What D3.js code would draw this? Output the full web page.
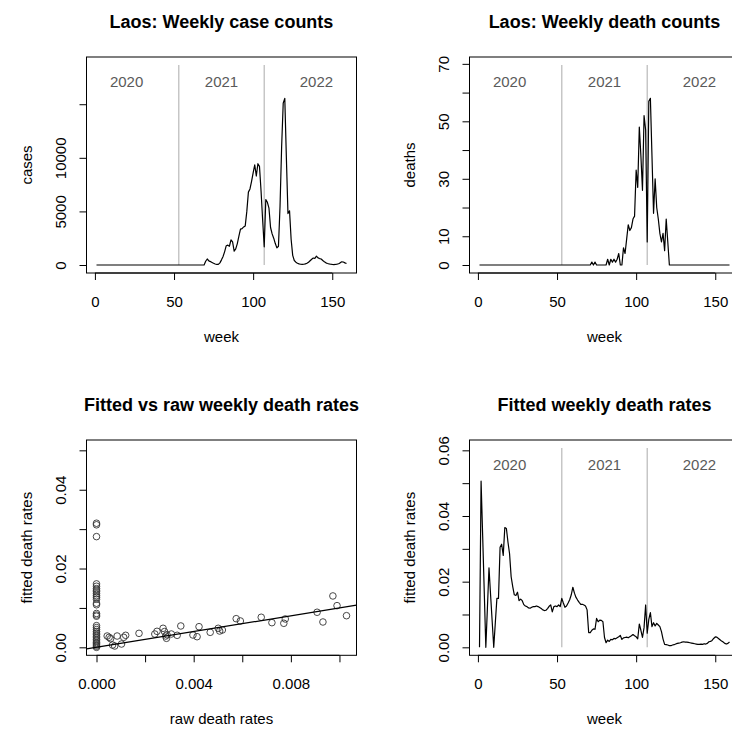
<!DOCTYPE html>
<html>
<head>
<meta charset="utf-8">
<script src="https://cdn.jsdelivr.net/npm/d3@7"></script>
<style>
  body { margin: 0; background: #fff; }
  svg { display: block; font-family: "Liberation Sans", Arial, Helvetica, sans-serif; }
</style>
</head>
<body>
<svg id="fig" width="732" height="729"></svg>
<script>
// Weekly case counts, Laos, week 1 .. 159
const weeklyCases = [
  0, 0, 0, 0, 0, 0, 0, 0, 0, 0,
  0, 0, 0, 0, 0, 0, 0, 0, 0, 0,
  0, 0, 0, 0, 0, 0, 0, 0, 0, 0,
  0, 0, 0, 0, 0, 0, 0, 0, 0, 0,
  0, 0, 0, 0, 0, 0, 0, 0, 0, 0,
  0, 0, 0, 0, 0, 0, 0, 0, 0, 0,
  0, 0, 0, 0, 0, 0, 0, 0, 0, 350,
  560, 380, 320, 240, 160, 90, 50, 60, 200, 480,
  800, 1250, 1800, 1850, 1750, 2350, 2150, 1300, 1500, 2000,
  2700, 3350, 3400, 3550, 3650, 5000, 6800, 7100, 7800, 8600,
  9350, 8300, 9450, 9200, 6900, 4200, 1700, 6100, 5850, 5300,
  3500, 2900, 2500, 2000, 1600, 1750, 5500, 11000, 15100, 15550,
  10000, 4800, 5050, 2400, 900, 420, 260, 160, 100, 70,
  60, 70, 100, 160, 260, 400, 540, 650, 620, 820,
  660, 600, 560, 420, 300, 200, 140, 100, 70, 50,
  40, 50, 80, 120, 200, 300, 280, 200, 140
];

// Weekly death counts, week 1 .. 159
const weeklyDeaths = [
  0, 0, 0, 0, 0, 0, 0, 0, 0, 0,
  0, 0, 0, 0, 0, 0, 0, 0, 0, 0,
  0, 0, 0, 0, 0, 0, 0, 0, 0, 0,
  0, 0, 0, 0, 0, 0, 0, 0, 0, 0,
  0, 0, 0, 0, 0, 0, 0, 0, 0, 0,
  0, 0, 0, 0, 0, 0, 0, 0, 0, 0,
  0, 0, 0, 0, 0, 0, 0, 0, 0, 0,
  0, 1, 0, 1, 0, 0, 0, 0, 0, 0,
  0, 2, 0, 2, 1, 2, 1, 2, 4, 0,
  0, 6, 4, 9, 14, 12, 13, 16, 17, 33,
  27, 48, 38, 26, 52, 47, 8, 57, 58, 38,
  18, 30, 20, 16, 11, 8, 11, 5, 16, 8,
  0, 0, 0, 0, 0, 0, 0, 0, 0, 0,
  0, 0, 0, 0, 0, 0, 0, 0, 0, 0,
  0, 0, 0, 0, 0, 0, 0, 0, 0, 0,
  0, 0, 0, 0, 0, 0, 0, 0, 0
];

// Fitted weekly death rates, week 1 .. 159
const fittedRate = [
  0, 0.0506, 0.034, 0.017, 0, 0.012, 0.0242, 0.016, 0.008, 0,
  0.0075, 0.0149, 0.0149, 0.0305, 0.0314, 0.028, 0.0365, 0.0362, 0.032, 0.0285,
  0.0215, 0.0185, 0.016, 0.0158, 0.0168, 0.0142, 0.0147, 0.0142, 0.013, 0.0126,
  0.0124, 0.012, 0.0119, 0.0122, 0.0124, 0.0124, 0.0126, 0.0124, 0.0121, 0.0118,
  0.0114, 0.0112, 0.0113, 0.0118, 0.0125, 0.0129, 0.0108, 0.0124, 0.0126, 0.0124,
  0.0129, 0.0124, 0.0149, 0.0135, 0.0122, 0.0126, 0.0135, 0.0145, 0.016, 0.0183,
  0.0165, 0.0152, 0.0144, 0.0137, 0.0131, 0.0131, 0.0129, 0.0126, 0.0114, 0.0045,
  0.0045, 0.0052, 0.0056, 0.0055, 0.0088, 0.0078, 0.0083, 0.0082, 0.0078, 0.003,
  0.0014, 0.0022, 0.0018, 0.0024, 0.0023, 0.0027, 0.0026, 0.0029, 0.0032, 0.0036,
  0.0024, 0.0029, 0.003, 0.0031, 0.0029, 0.0032, 0.0035, 0.0039, 0.0035, 0.0032,
  0.0026, 0.0071, 0.0052, 0.003, 0.006, 0.0129, 0.0043, 0.0085, 0.0106, 0.0063,
  0.0075, 0.0065, 0.0073, 0.0068, 0.0063, 0.0048, 0.0025, 0.0009, 0.0008, 0.0007,
  0.0005, 0.0005, 0.0007, 0.0008, 0.001, 0.0012, 0.0013, 0.0014, 0.0016, 0.0017,
  0.0016, 0.0016, 0.0015, 0.0014, 0.0013, 0.0012, 0.0011, 0.001, 0.0009, 0.0009,
  0.001, 0.0009, 0.0011, 0.001, 0.0012, 0.0017, 0.0018, 0.0021, 0.0027, 0.0032,
  0.0031, 0.0027, 0.0023, 0.0019, 0.0016, 0.0012, 0.001, 0.0012, 0.0016
];

// Raw (deaths / cases) against fitted rate, one pair per week with cases
const rawRate = [
  0, 0, 0, 0, 0, 0, 0, 0, 0, 0,
  0, 0, 0, 0, 0, 0, 0, 0, 0, 0,
  0, 0, 0, 0, 0, 0, 0, 0, 0, 0,
  0, 0,
  0.00044, 0.00052, 0.00058, 0.00066, 0.00075, 0.00085, 0.00103, 0.00112, 0.0012, 0.00175,
  0.0024, 0.00249, 0.00274, 0.0028, 0.00285, 0.00288, 0.0029, 0.00308, 0.00332, 0.00347,
  0.00397, 0.00414, 0.00422, 0.00468, 0.00501, 0.00507, 0.00518, 0.00575, 0.00592, 0.00678,
  0.00722, 0.00771, 0.00777, 0.00908, 0.00932, 0.00973, 0.0099, 0.01029
];
const fittedVsRaw = [
  0.0315, 0.0311, 0.0281, 0.0161, 0.0155, 0.0149, 0.0145, 0.0141, 0.0136, 0.0131,
  0.0127, 0.0122, 0.0112, 0.0108, 0.0086, 0.0082, 0.0079, 0.0055, 0.0050, 0.0045,
  0.0040, 0.0036, 0.0032, 0.0028, 0.0024, 0.0020, 0.0016, 0.0012, 0.0009, 0.0006,
  0.0003, 0.0,
  0.00287, 0.00254, 0.00219, 0.00058, 0.00033, 0.00287, 0.00084, 0.00254, 0.00305, 0.00355,
  0.00338, 0.00406, 0.00483, 0.0040, 0.00287, 0.00229, 0.0032, 0.00338, 0.00305, 0.00542,
  0.00313, 0.0027, 0.00524, 0.00381, 0.00483, 0.00414, 0.0044, 0.00727, 0.00669, 0.00763,
  0.00626, 0.0061, 0.0072, 0.0089, 0.00643, 0.01304, 0.01058, 0.00803
];

// Year annotations on the weekly panels
const yearLabels = ["2020", "2021", "2022"];
const yearLabelWeek = [20, 80, 140];
const yearStartWeek = [53, 107];

// Axis ticks and their printed labels ("" = tick without label)
const weekTicks = [0, 50, 100, 150];
const weekTickLabels = ["0", "50", "100", "150"];
const caseTicks = [0, 5000, 10000, 15000];
const caseTickLabels = ["0", "5000", "10000", ""];
const deathTicks = [0, 10, 20, 30, 40, 50, 60, 70];
const deathTickLabels = ["0", "10", "", "30", "", "50", "", "70"];
const rawTicks = [0, 0.002, 0.004, 0.006, 0.008, 0.010];
const rawTickLabels = ["0.000", "", "0.004", "", "0.008", ""];
const scatterYTicks = [0, 0.01, 0.02, 0.03, 0.04, 0.05];
const scatterYTickLabels = ["0.00", "", "0.02", "", "0.04", ""];
const rateTicks = [0, 0.01, 0.02, 0.03, 0.04, 0.05, 0.06];
const rateTickLabels = ["0.00", "", "0.02", "", "0.04", "", "0.06"];

const svg = d3.select("#fig");
const FONT = 15;

// Pad a data range by 4% on each side, as base graphics do
function padded(lo, hi) {
  const p = (hi - lo) * 0.04;
  return [lo - p, hi + p];
}

function drawPanel(cfg) {
  const { box } = cfg;
  const x = d3.scaleLinear().domain(cfg.xDom).range([box.l, box.r]);
  const y = d3.scaleLinear().domain(cfg.yDom).range([box.b, box.t]);
  const g = svg.append("g");

  // title
  g.append("text")
    .attr("x", (box.l + box.r) / 2).attr("y", box.t - 29)
    .attr("text-anchor", "middle").attr("font-weight", "bold")
    .attr("font-size", 18).attr("fill", "#000")
    .text(cfg.title);

  // bottom axis
  const xa = g.append("g").attr("transform", `translate(0,${box.b})`)
    .call(d3.axisBottom(x).tickValues(cfg.xTicks).tickSize(7)
      .tickFormat((d, i) => cfg.xLabels[i]));
  xa.select(".domain").remove();
  xa.append("line")
    .attr("x1", x(cfg.xTicks[0])).attr("x2", x(cfg.xTicks[cfg.xTicks.length - 1]))
    .attr("stroke", "#000");
  xa.selectAll(".tick line").attr("stroke", "#000");
  xa.selectAll(".tick text")
    .attr("y", 33.5).attr("dy", null)
    .attr("font-size", FONT).attr("fill", "#000")
    .attr("font-family", "Liberation Sans, Arial, sans-serif");

  // left axis, labels parallel to the axis
  const ya = g.append("g").attr("transform", `translate(${box.l},0)`)
    .call(d3.axisLeft(y).tickValues(cfg.yTicks).tickSize(7)
      .tickFormat((d, i) => cfg.yLabels[i]));
  ya.select(".domain").remove();
  ya.append("line")
    .attr("y1", y(cfg.yTicks[0])).attr("y2", y(cfg.yTicks[cfg.yTicks.length - 1]))
    .attr("stroke", "#000");
  ya.selectAll(".tick line").attr("stroke", "#000");
  ya.selectAll(".tick text")
    .attr("x", 0).attr("y", -21).attr("dy", null)
    .attr("transform", "rotate(-90)")
    .attr("text-anchor", "middle")
    .attr("font-size", FONT).attr("fill", "#000")
    .attr("font-family", "Liberation Sans, Arial, sans-serif");

  // axis titles
  g.append("text")
    .attr("x", (box.l + box.r) / 2).attr("y", box.b + 69)
    .attr("text-anchor", "middle").attr("font-size", FONT).attr("fill", "#000")
    .text(cfg.xlab);
  g.append("text")
    .attr("transform", `translate(${box.l - 55},${(box.t + box.b) / 2}) rotate(-90)`)
    .attr("text-anchor", "middle").attr("font-size", FONT).attr("fill", "#000")
    .text(cfg.ylab);

  return { g, x, y };
}

// Year separators and labels on a weekly panel
function drawYears(p, top, labelY) {
  yearStartWeek.forEach(w => {
    p.g.append("line")
      .attr("x1", p.x(w)).attr("x2", p.x(w))
      .attr("y1", p.y(0)).attr("y2", p.y(top))
      .attr("stroke", "#bebebe").attr("stroke-width", 1.3);
  });
  yearLabels.forEach((t, i) => {
    p.g.append("text")
      .attr("x", p.x(yearLabelWeek[i])).attr("y", p.y(labelY))
      .attr("dy", "0.36em").attr("text-anchor", "middle")
      .attr("font-size", FONT).attr("fill", "#5a5a5a")
      .text(t);
  });
}

function drawSeries(p, values) {
  const line = d3.line().x((d, i) => p.x(i + 1)).y(d => p.y(d));
  p.g.append("path").datum(values)
    .attr("d", line).attr("fill", "none")
    .attr("stroke", "#000").attr("stroke-width", 1.2)
    .attr("stroke-linejoin", "round");
}

function drawBox(p, box) {
  p.g.append("rect")
    .attr("x", box.l).attr("y", box.t)
    .attr("width", box.r - box.l).attr("height", box.b - box.t)
    .attr("fill", "none").attr("stroke", "#000").attr("stroke-width", 1);
}

const nWeeks = weeklyCases.length;
const weekDom = padded(1, nWeeks);

const boxTL = { l: 86.5, r: 356.5, t: 57, b: 273 };
const boxTR = { l: 469.5, r: 739.5, t: 57, b: 273 };
const boxBL = { l: 86.5, r: 356.5, t: 440, b: 655.3 };
const boxBR = { l: 469.5, r: 739.5, t: 440, b: 655.3 };

// Weekly case counts
{
  const mx = d3.max(weeklyCases);
  const p = drawPanel({
    box: boxTL, xDom: weekDom, yDom: padded(0, 1.2 * mx),
    xTicks: weekTicks, xLabels: weekTickLabels,
    yTicks: caseTicks, yLabels: caseTickLabels,
    title: "Laos: Weekly case counts", xlab: "week", ylab: "cases"
  });
  drawYears(p, 1.2 * mx, 1.1 * mx);
  drawSeries(p, weeklyCases);
  drawBox(p, boxTL);
}

// Weekly death counts
{
  const mx = d3.max(weeklyDeaths);
  const p = drawPanel({
    box: boxTR, xDom: weekDom, yDom: padded(0, 1.2 * mx),
    xTicks: weekTicks, xLabels: weekTickLabels,
    yTicks: deathTicks, yLabels: deathTickLabels,
    title: "Laos: Weekly death counts", xlab: "week", ylab: "deaths"
  });
  drawYears(p, 1.2 * mx, 1.1 * mx);
  drawSeries(p, weeklyDeaths);
  drawBox(p, boxTR);
}

// Fitted vs raw weekly death rates
{
  const p = drawPanel({
    box: boxBL, xDom: padded(0, d3.max(rawRate)),
    yDom: padded(d3.min(fittedRate), d3.max(fittedRate)),
    xTicks: rawTicks, xLabels: rawTickLabels,
    yTicks: scatterYTicks, yLabels: scatterYTickLabels,
    title: "Fitted vs raw weekly death rates",
    xlab: "raw death rates", ylab: "fitted death rates"
  });
  p.g.append("g").selectAll("circle")
    .data(rawRate.map((r, i) => [r, fittedVsRaw[i]]))
    .join("circle")
    .attr("cx", d => p.x(d[0])).attr("cy", d => p.y(d[1]))
    .attr("r", 3.3).attr("fill", "none")
    .attr("stroke", "#333").attr("stroke-width", 0.9);
  // identity line y = x
  const xd = p.x.domain();
  p.g.append("line")
    .attr("x1", p.x(xd[0])).attr("y1", p.y(xd[0]))
    .attr("x2", p.x(xd[1])).attr("y2", p.y(xd[1]))
    .attr("stroke", "#000").attr("stroke-width", 1.3);
  drawBox(p, boxBL);
}

// Fitted weekly death rates
{
  const mx = d3.max(fittedRate);
  const p = drawPanel({
    box: boxBR, xDom: weekDom, yDom: padded(0, 1.2 * mx),
    xTicks: weekTicks, xLabels: weekTickLabels,
    yTicks: rateTicks, yLabels: rateTickLabels,
    title: "Fitted weekly death rates", xlab: "week", ylab: "fitted death rates"
  });
  drawYears(p, 1.2 * mx, 1.1 * mx);
  drawSeries(p, fittedRate);
  drawBox(p, boxBR);
}
</script>
</body>
</html>
